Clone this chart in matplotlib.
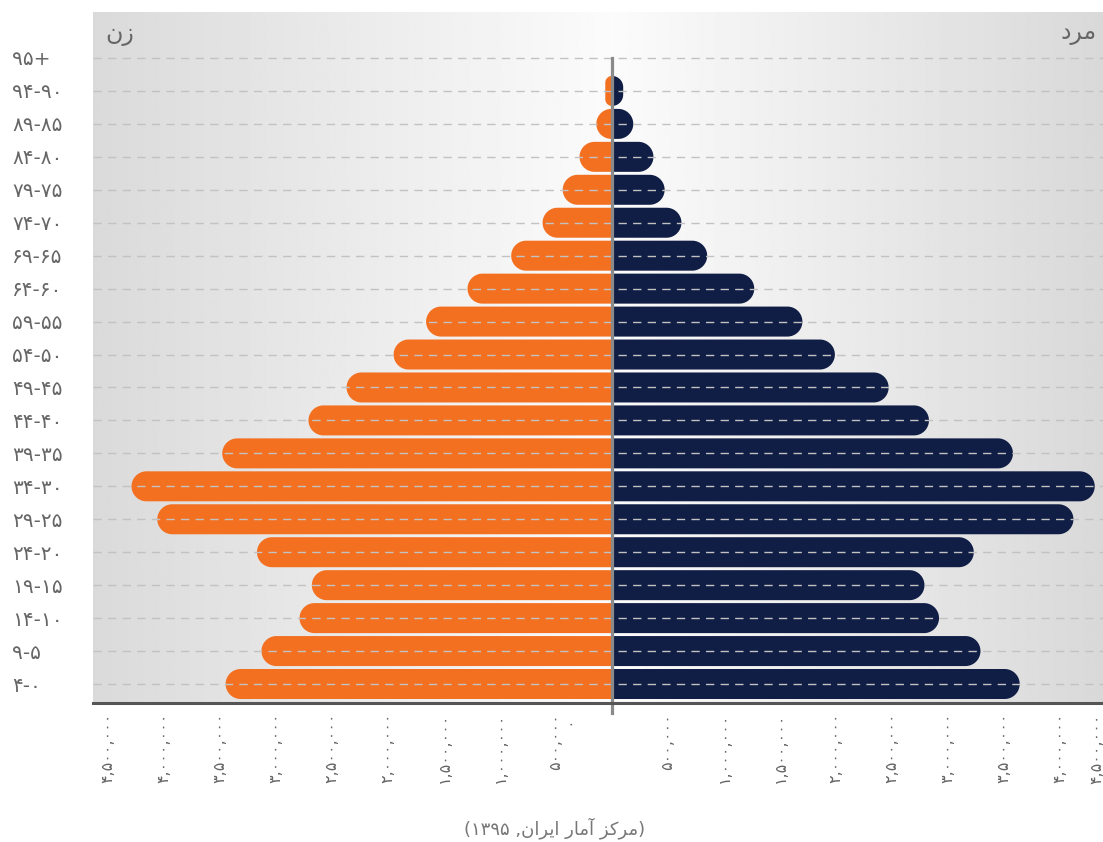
import numpy as np
import matplotlib
matplotlib.use("Agg")
import matplotlib.pyplot as plt
from matplotlib.patches import Polygon

plt.rcParams['font.family'] = ['DejaVu Sans']

# population in millions, age groups from 0-4 up to 95+
age_lo = [0, 5, 10, 15, 20, 25, 30, 35, 40, 45, 50, 55, 60, 65, 70, 75, 80, 85, 90, 95]
female = [3.45, 3.13, 2.79, 2.68, 3.17, 4.06, 4.29, 3.48, 2.71, 2.37,
          1.95, 1.66, 1.29, 0.90, 0.62, 0.44, 0.29, 0.14, 0.06, 0.0]
male = [3.64, 3.29, 2.92, 2.79, 3.23, 4.12, 4.31, 3.58, 2.83, 2.47,
        1.99, 1.70, 1.27, 0.85, 0.62, 0.47, 0.37, 0.19, 0.10, 0.0]
xticks = [-4.5, -4.0, -3.5, -3.0, -2.5, -2.0, -1.5, -1.0, -0.5,
          0.5, 1.0, 1.5, 2.0, 2.5, 3.0, 3.5, 4.0]

# Persian text, pre-shaped in visual (left-to-right) order
label_women = "\uFEE5\uFEAF"            # زن
label_men = "\uFEA9\uFEAE\uFEE3"         # مرد
source = ("(" + "۱۳۹۵" + " ," + "\uFEE5\uFE8D\uFEAE\uFBFE\uFE8D" + " "
          + "\uFEAD\uFE8E\uFEE3\uFE81" + " " + "\uFEB0\uFB90\uFEAE\uFEE3" + ")")  # (مرکز آمار ایران, ۱۳۹۵)

FA = str.maketrans("0123456789", "۰۱۲۳۴۵۶۷۸۹")


def fa(s):
    return str(s).translate(FA)


age_labels = []
for lo in age_lo:
    if lo == 95:
        age_labels.append(fa("95") + "+")
    else:
        age_labels.append(fa(lo + 4) + "-" + fa(lo))

ORANGE = "#f37021"
NAVY = "#101d45"
TXT = "#666666"

W, H = 1103, 842
fig = plt.figure(figsize=(W / 100, H / 100), dpi=100)
ax = fig.add_axes([93 / W, 139 / H, 1 - 93 / W, (703 - 12) / H])

xl = (-(612 - 93) / 112, (1103 - 612) / 112)
yl = (-(703 - 684) / 32.95, 19 + (58 - 12) / 32.95)
ax.set_xlim(*xl)
ax.set_ylim(*yl)

# background gradient (grey at the edges, near white at the centre)
xs = np.linspace(xl[0], xl[1], 600)
shade = np.where(xs < 0, 0.985 - 0.13 * (xs / xl[0]), 0.985 - 0.135 * (xs / xl[1]))
ax.imshow(np.tile(shade, (2, 1)), cmap="gray", vmin=0, vmax=1, aspect="auto",
          extent=[xl[0], xl[1], yl[0], yl[1]], zorder=0, interpolation="bilinear")

# rounded bar ends, circular in pixels
h = 30 / 32.95
p0 = ax.transData.transform((0, 0))
p1 = ax.transData.transform((1, 1))
xpx, ypx = p1[0] - p0[0], p1[1] - p0[1]
rx = (h / 2) * ypx / xpx


def bar(y, v, s, color):
    if v <= 0:
        return
    rc = min(rx, v)
    ryc = rc * xpx / ypx
    xe = s * (v - rc)
    t = np.linspace(-np.pi / 2, 0, 20)
    lower = np.column_stack([xe + s * rc * np.cos(t), y - h / 2 + ryc + ryc * np.sin(t)])
    t2 = np.linspace(0, np.pi / 2, 20)
    upper = np.column_stack([xe + s * rc * np.cos(t2), y + h / 2 - ryc + ryc * np.sin(t2)])
    pts = np.vstack([[[0, y - h / 2]], lower, upper, [[0, y + h / 2]]])
    ax.add_patch(Polygon(pts, closed=True, facecolor=color, edgecolor="none", zorder=2))


for i in range(len(age_lo)):
    bar(i, female[i], -1, ORANGE)
    bar(i, male[i], 1, NAVY)

# dashed grid lines on top of the bars
for i in range(len(age_lo)):
    ax.plot(xl, [i, i], color="#c2c2c2", lw=1, ls=(0, (6, 4.5)), zorder=3)

# centre line
top_frac = (len(age_lo) - 1 - yl[0]) / (yl[1] - yl[0])
ax.axvline(0, ymin=-0.015, ymax=top_frac, color="#8a8a8a", lw=2.3, zorder=4, clip_on=False)

for s in ["top", "left", "right"]:
    ax.spines[s].set_visible(False)
ax.spines["bottom"].set_color("#555555")
ax.spines["bottom"].set_linewidth(2.2)
ax.spines["bottom"].set_zorder(5)

ax.set_yticks(range(len(age_lo)))
ax.set_yticklabels(age_labels, fontsize=14.5, color=TXT, ha="left")
ax.tick_params(axis="y", length=0, pad=58)

ax.set_xticks(xticks)
ax.set_xticklabels([fa(f"{int(abs(v) * 1e6):,}") for v in xticks],
                   rotation=90, fontsize=11.5, color=TXT, va="top", ha="center")
ax.tick_params(axis="x", length=0, pad=7)

# zero label and the clipped last label on the right
ax.annotate(fa(0), xy=(0, 0), xycoords=("data", "axes fraction"), xytext=(-41, -14),
            textcoords="offset pixels", fontsize=11.5, color=TXT, ha="center", va="top")
ax.annotate(fa(f"{4500000:,}"), xy=(1, 0), xycoords="axes fraction", xytext=(-6, -10),
            textcoords="offset pixels", fontsize=11.5, color=TXT, ha="center", va="top",
            rotation=90, annotation_clip=False)

ax.text(0.012, 0.968, label_women, transform=ax.transAxes, fontsize=17, color=TXT,
        ha="left", va="center")
ax.text(0.994, 0.97, label_men, transform=ax.transAxes, fontsize=17, color=TXT,
        ha="right", va="center")

fig.text(555 / W, 1 - 828 / H, source, fontsize=13, color="#777777", ha="center", va="center")

fig.savefig("out.png", dpi=100, facecolor="white")
